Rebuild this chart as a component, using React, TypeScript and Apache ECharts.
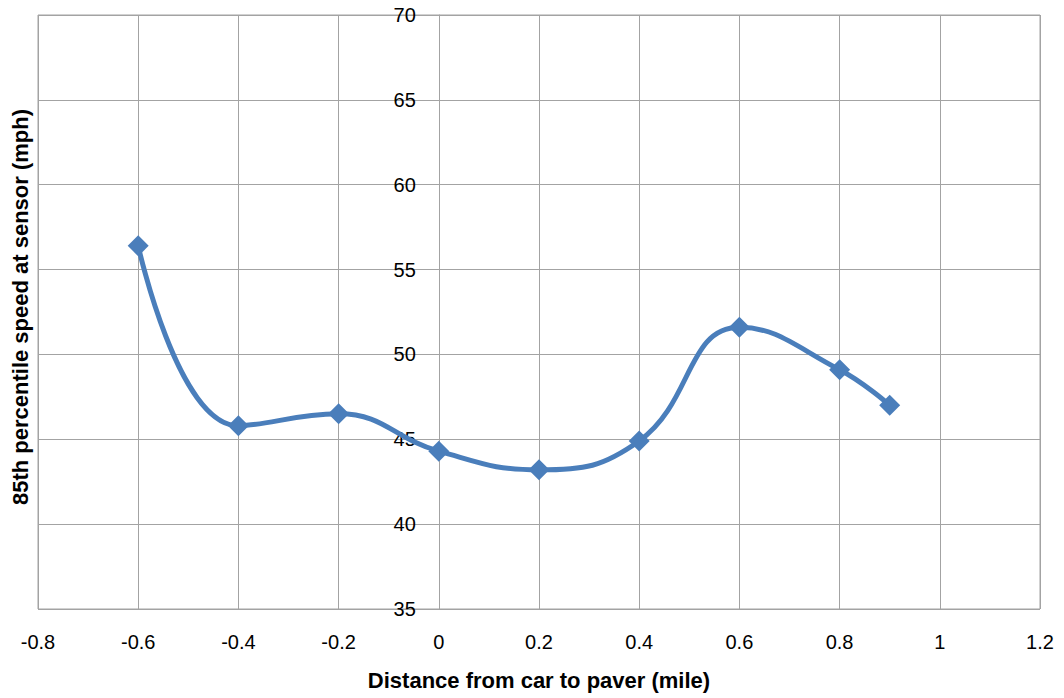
import React, { useEffect, useRef } from "react";
import * as echarts from "echarts";

const distances = [-0.6, -0.4, -0.2, 0, 0.2, 0.4, 0.6, 0.8, 0.9];
const speeds = [56.4, 45.8, 46.5, 44.3, 43.2, 44.9, 51.6, 49.1, 47.0];
const xTitle = "Distance from car to paver (mile)";
const yTitle = "85th percentile speed at sensor (mph)";

const TICK_FONT = "'Liberation Sans', Arial, sans-serif";
const TITLE_FONT = "'Liberation Sans Narrow', 'Liberation Sans', sans-serif";
const GRID_COLOR = "#a3a3a3";

const X_MIN = -0.8;
const X_MAX = 1.2;
const PLOT_LEFT = 38;
const PLOT_RIGHT = 24;
const PLOT_TOP = 15;
const PLOT_BOTTOM = 89;
const WIDTH = 1064;
const HEIGHT = 698;

export default function App() {
  const ref = useRef<HTMLDivElement>(null);
  useEffect(() => {
    document.body.style.margin = "0";
    const chart = echarts.init(ref.current!, null, { renderer: "svg" });
    const plotWidth = WIDTH - PLOT_LEFT - PLOT_RIGHT;
    const zeroLeft = PLOT_LEFT + ((0 - X_MIN) / (X_MAX - X_MIN)) * plotWidth;
    chart.setOption({
      animation: false,
      backgroundColor: "#ffffff",
      grid: [
        {
          left: PLOT_LEFT,
          right: PLOT_RIGHT,
          top: PLOT_TOP,
          bottom: PLOT_BOTTOM,
          containLabel: false,
          outerBoundsMode: "none",
          show: true,
          borderColor: GRID_COLOR,
          borderWidth: 1,
        },
        {
          left: zeroLeft,
          right: PLOT_RIGHT,
          top: PLOT_TOP,
          bottom: PLOT_BOTTOM,
          containLabel: false,
          outerBoundsMode: "none",
          show: false,
        },
      ],
      xAxis: [
        {
          type: "value",
          gridIndex: 0,
          min: X_MIN,
          max: X_MAX,
          interval: 0.2,
          name: xTitle,
          nameLocation: "middle",
          nameGap: 60,
          nameTextStyle: { fontFamily: TITLE_FONT, fontWeight: "bold", fontSize: 22, color: "#000" },
          axisLine: { show: false, onZero: false },
          axisTick: { show: false },
          axisLabel: {
            fontFamily: TICK_FONT,
            fontSize: 20,
            color: "#000",
            margin: 23,
            formatter: (v: number) => String(Math.round(v * 10) / 10),
          },
          splitLine: { show: true, lineStyle: { color: GRID_COLOR, width: 1 } },
        },
        {
          type: "value",
          gridIndex: 1,
          min: 0,
          max: X_MAX,
          show: false,
        },
      ],
      yAxis: [
        {
          type: "value",
          gridIndex: 0,
          min: 35,
          max: 70,
          interval: 5,
          axisLine: { show: false },
          axisTick: { show: false },
          axisLabel: { show: false },
          splitLine: { show: true, lineStyle: { color: GRID_COLOR, width: 1 } },
        },
        {
          type: "value",
          gridIndex: 1,
          position: "left",
          min: 35,
          max: 70,
          interval: 5,
          axisLine: { show: true, onZero: false, lineStyle: { color: GRID_COLOR, width: 1 } },
          axisTick: { show: false },
          axisLabel: { fontFamily: TICK_FONT, fontSize: 20, color: "#000", margin: 23 },
          splitLine: { show: false },
        },
      ],
      graphic: [
        {
          type: "text",
          x: 20,
          y: 307,
          rotation: Math.PI / 2,
          style: {
            text: yTitle,
            fontFamily: TITLE_FONT,
            fontWeight: "bold",
            fontSize: 22,
            fill: "#000",
            align: "center",
            verticalAlign: "middle",
          },
        },
      ],
      series: [
        {
          type: "line",
          xAxisIndex: 0,
          yAxisIndex: 0,
          smooth: 0.45,
          data: distances.map((d, i) => [d, speeds[i]]),
          symbol: "diamond",
          symbolSize: 21,
          itemStyle: { color: "#4a7ebb" },
          lineStyle: { color: "#4a7ebb", width: 5 },
        },
      ],
    });
    return () => chart.dispose();
  }, []);
  return <div ref={ref} style={{ width: WIDTH, height: HEIGHT }} />;
}
